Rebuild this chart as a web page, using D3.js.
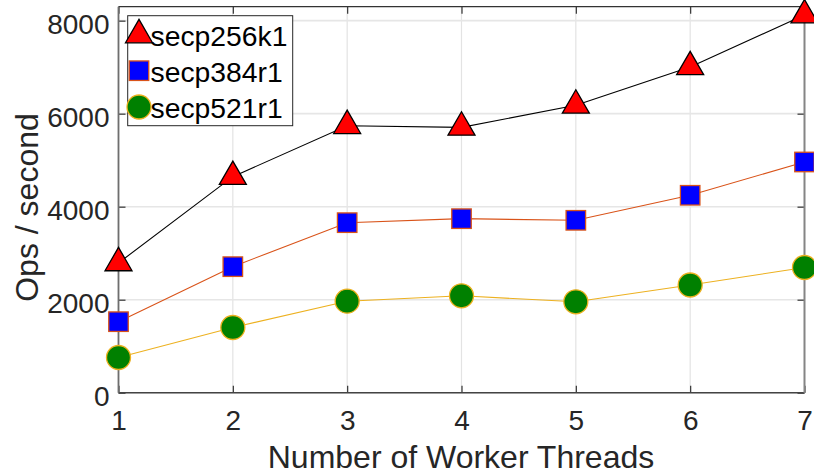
<!DOCTYPE html>
<html>
<head>
<meta charset="utf-8">
<script src="https://cdn.jsdelivr.net/npm/d3@7"></script>
<style>
  html, body { margin: 0; padding: 0; background: #fff; }
  svg { display: block; font-family: "Liberation Sans", Arial, Helvetica, sans-serif; }
</style>
</head>
<body>
<svg id="chart" width="814" height="473"></svg>
<script>
// ---- data ----
const threads = [1, 2, 3, 4, 5, 6, 7];
const secp256k1 = [2790, 4645, 5740, 5705, 6180, 7005, 8120];
const secp384r1 = [1527, 2710, 3656, 3742, 3707, 4245, 4961];
const secp521r1 = [757, 1402, 1968, 2084, 1955, 2316, 2692];
const seriesNames = ["secp256k1", "secp384r1", "secp521r1"];
const xTicks = [1, 2, 3, 4, 5, 6, 7];
const yTicks = [0, 2000, 4000, 6000, 8000];
const xLabel = "Number of Worker Threads";
const yLabel = "Ops / second";

(function () {
const series = [
  { name: seriesNames[0], values: secp256k1, line: "#000000", fill: "#ff0000", edge: "#000000", marker: "triangle" },
  { name: seriesNames[1], values: secp384r1, line: "#D95319", fill: "#0000ff", edge: "#D95319", marker: "square" },
  { name: seriesNames[2], values: secp521r1, line: "#EDB120", fill: "#008000", edge: "#EDB120", marker: "circle" }
];

const svg = d3.select("#chart");
const pL = 118.5, pR = 804.5, pT = 6.7, pB = 392.7;
const x = d3.scaleLinear().domain([1, 7]).range([pL, pR]);
const y = d3.scaleLinear().domain([0, 8300]).range([pB, pT]);

// grid
const grid = svg.append("g");
grid.selectAll("line.gx").data(xTicks).join("line")
  .attr("x1", d => x(d)).attr("x2", d => x(d))
  .attr("y1", pT).attr("y2", pB)
  .attr("stroke", "#e3e3e3").attr("stroke-width", 1.2);
grid.selectAll("line.gy").data(yTicks).join("line")
  .attr("x1", pL).attr("x2", pR)
  .attr("y1", d => y(d)).attr("y2", d => y(d))
  .attr("stroke", "#e6e6e6").attr("stroke-width", 1.6);

// axes
const tickFont = 28;
const gx = svg.append("g").attr("transform", `translate(0,${pB})`)
  .call(d3.axisBottom(x).tickValues(xTicks).tickFormat(d3.format("d")).tickSizeInner(-7).tickSizeOuter(0).tickPadding(17));
const gxTop = svg.append("g").attr("transform", `translate(0,${pT})`)
  .call(d3.axisTop(x).tickValues(xTicks).tickFormat("").tickSizeInner(-7).tickSizeOuter(0));
const gy = svg.append("g").attr("transform", `translate(${pL},0)`)
  .call(d3.axisLeft(y).tickValues(yTicks).tickFormat(d3.format("d")).tickSizeInner(-7).tickSizeOuter(0).tickPadding(9));
const gyR = svg.append("g").attr("transform", `translate(${pR},0)`)
  .call(d3.axisRight(y).tickValues(yTicks).tickFormat("").tickSizeInner(-7).tickSizeOuter(0));

[gx, gxTop, gy, gyR].forEach(g => {
  g.select(".domain").remove();
  g.selectAll(".tick line").attr("stroke", "#333").attr("stroke-width", 1.2);
  g.selectAll(".tick text").attr("fill", "#262626").style("font-size", tickFont + "px")
    .style("font-family", '"Liberation Sans", Arial, Helvetica, sans-serif');
});
gy.selectAll(".tick text").attr("dy", "0.45em");

// box
svg.append("line").attr("x1", pL).attr("x2", pR).attr("y1", pT).attr("y2", pT).attr("stroke", "#333").attr("stroke-width", 1.2);
svg.append("line").attr("x1", pL).attr("x2", pR).attr("y1", pB).attr("y2", pB).attr("stroke", "#444").attr("stroke-width", 1.6);
svg.append("line").attr("x1", pL).attr("x2", pL).attr("y1", pT).attr("y2", pB).attr("stroke", "#6e6e6e").attr("stroke-width", 1.8);
svg.append("line").attr("x1", pR).attr("x2", pR).attr("y1", pT).attr("y2", pB).attr("stroke", "#858585").attr("stroke-width", 2);

// markers
function drawMarker(g, type, cx, cy, fill, edge) {
  if (type === "triangle") {
    const s = 27, h = s * Math.sqrt(3) / 2;
    const pts = [[cx, cy - 2 * h / 3], [cx - s / 2, cy + h / 3], [cx + s / 2, cy + h / 3]];
    g.append("path").attr("d", "M" + pts.map(p => p.join(",")).join("L") + "Z")
      .attr("fill", fill).attr("stroke", edge).attr("stroke-width", 1.3).attr("stroke-linejoin", "miter");
  } else if (type === "square") {
    const s = 19.5;
    g.append("rect").attr("x", cx - s / 2).attr("y", cy - s / 2).attr("width", s).attr("height", s)
      .attr("fill", fill).attr("stroke", edge).attr("stroke-width", 1.3);
  } else {
    g.append("circle").attr("cx", cx).attr("cy", cy).attr("r", 12)
      .attr("fill", fill).attr("stroke", edge).attr("stroke-width", 1.3);
  }
}

const lineGen = d3.line().x((d, i) => x(threads[i])).y(d => y(d));
series.forEach(s => {
  const g = svg.append("g");
  g.append("path").datum(s.values).attr("d", lineGen)
    .attr("fill", "none").attr("stroke", s.line).attr("stroke-width", 1.1);
  s.values.forEach((v, i) => drawMarker(g, s.marker, x(threads[i]), y(v), s.fill, s.edge));
});

// legend
const lg = svg.append("g");
lg.append("rect").attr("x", 127.7).attr("y", 15.7).attr("width", 165).attr("height", 110)
  .attr("fill", "#fff").attr("stroke", "#262626").attr("stroke-width", 1);
const legendRows = [
  { my: 35, ty: 45.5 },
  { my: 70.7, ty: 81.7 },
  { my: 107, ty: 118 }
];
series.forEach((s, i) => {
  drawMarker(lg, s.marker, 139, legendRows[i].my, s.fill, s.edge);
  lg.append("text").attr("x", 150.5).attr("y", legendRows[i].ty)
    .attr("fill", "#000").style("font-size", "28.3px").text(s.name);
});

// axis labels
svg.append("text").attr("x", 461).attr("y", 467.5)
  .attr("text-anchor", "middle").attr("fill", "#262626").style("font-size", "32px").text(xLabel);
svg.append("text").attr("transform", `translate(37.5,207.5) rotate(-90)`)
  .attr("text-anchor", "middle").attr("fill", "#262626").style("font-size", "32px").text(yLabel);
})();
</script>
</body>
</html>
